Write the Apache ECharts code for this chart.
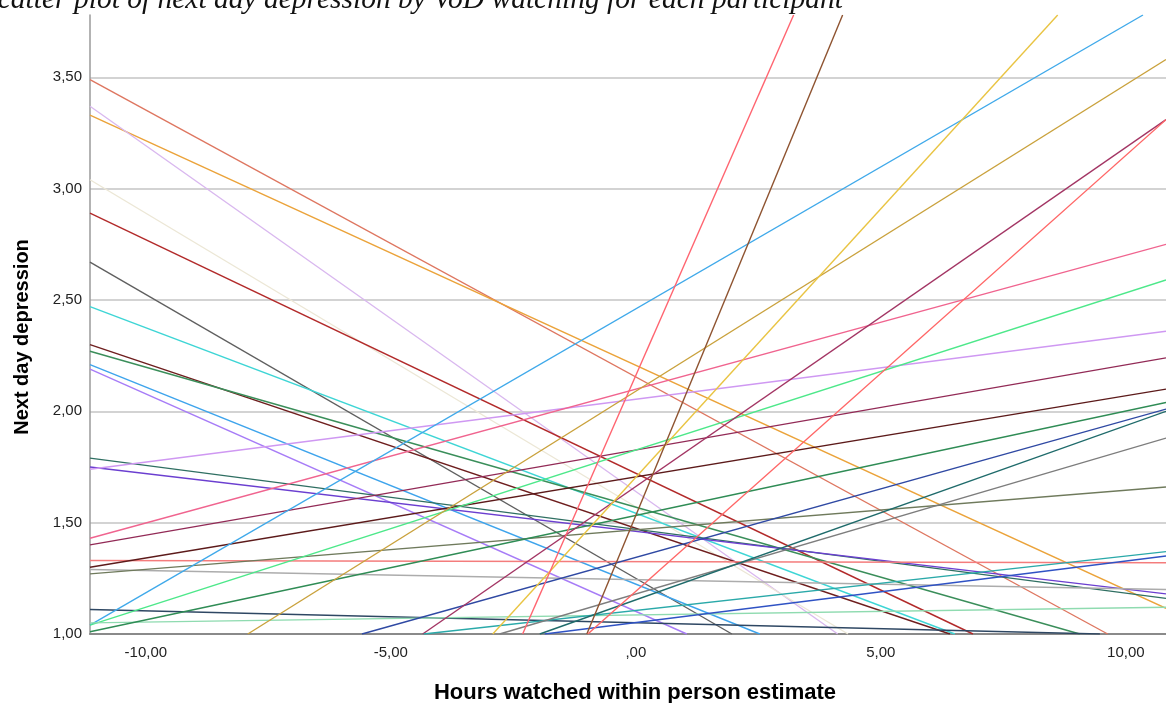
<!DOCTYPE html>
<html>
<head>
<meta charset="utf-8">
<title>Scatter plot of next day depression by VoD watching</title>
<script src="https://cdn.jsdelivr.net/npm/echarts@6.0.0/dist/echarts.min.js"></script>
<style>
  html, body { margin: 0; padding: 0; background: #fff; }
  #chart { width: 1166px; height: 703px; }
</style>
</head>
<body>
<div id="chart"></div>
<script>
// one fitted line per participant: start point and end point (data units)
const lineX0 = [-11.14, -11.14, -11.14, -11.14, -11.14, -11.14, -11.14, -11.14, -11.14, -11.14,
  -11.14, -11.14, -11.14, -11.14, -11.14, -11.14, -11.14, -11.14, -11.14, -11.14,
  -11.14, -11.14, -11.14, -11.14, -11.14,
  -7.92, -5.59, -4.35, -4.33, -2.92, -2.78, -2.31, -1.96, -1.86, -1.00, -0.98];
const lineY0 = [3.49, 3.33, 3.37, 3.04, 2.89, 2.67, 2.47, 2.30, 2.27, 2.21,
  2.19, 1.79, 1.75, 1.74, 1.43, 1.40, 1.33, 1.30, 1.29, 1.27,
  1.11, 1.04, 1.04, 1.05, 1.01,
  1.00, 1.00, 1.00, 1.00, 1.00, 1.00, 1.00, 1.00, 1.00, 1.00, 1.00];
const lineX1 = [9.63, 10.82, 4.12, 4.33, 6.88, 1.96, 6.51, 6.41, 9.06, 2.53,
  1.04, 10.82, 10.82, 10.82, 10.82, 10.82, 10.82, 10.82, 10.82, 10.82,
  9.47, 10.35, 10.82, 10.82, 10.82,
  10.82, 10.82, 10.82, 10.82, 8.61, 10.82, 3.22, 10.82, 10.82, 4.22, 10.82];
const lineY1 = [1.00, 1.115, 1.00, 1.00, 1.00, 1.00, 1.00, 1.00, 1.00, 1.00,
  1.00, 1.16, 1.18, 2.36, 2.75, 2.24, 1.32, 2.10, 1.20, 1.66,
  1.00, 3.78, 2.59, 1.12, 2.04,
  3.58, 2.01, 3.31, 1.37, 3.78, 1.88, 3.78, 2.00, 1.35, 3.78, 3.31];
const lineColors = ["#de7660", "#eba33a", "#d9b8ef", "#ece7d6", "#b22a2a", "#5f5f5f", "#3ed5d5", "#6e1e1e", "#3a8e5a", "#3ea4ec",
  "#a77cf7", "#2f6f62", "#6b3fd0", "#cf98f2", "#f0648f", "#922a56", "#f47c7c", "#5c1a1a", "#acacac", "#6f7a5c",
  "#2e4763", "#3fa9ea", "#4de88a", "#8fdbb0", "#2f8c55",
  "#c9a13b", "#2f49a3", "#a33564", "#2aa9a9", "#e9c443", "#7d7d7d", "#ff6470", "#1f6b6b", "#2f52c4", "#8e5330", "#ff6666"];

const xTicks = [-10, -5, 0, 5, 10];
const xTickLabels = ["-10,00", "-5,00", ",00", "5,00", "10,00"];
const yTicks = [1, 1.5, 2, 2.5, 3, 3.5];
const yTickLabels = ["1,00", "1,50", "2,00", "2,50", "3,00", "3,50"];

const lookup = (ticks, labels) => (v) => {
  const i = ticks.findIndex((t) => Math.abs(t - v) < 1e-6);
  return i < 0 ? "" : labels[i];
};

const chart = echarts.init(document.getElementById("chart"));

const series = lineX0.map((x0, i) => ({
  type: "line",
  data: [[x0, lineY0[i]], [lineX1[i], lineY1[i]]],
  showSymbol: false,
  symbol: "none",
  silent: true,
  clip: true,
  lineStyle: { color: lineColors[i], width: 1.4 },
}));

const labelFont = "'Liberation Sans', Arial, sans-serif";

const option = {
  animation: false,
  backgroundColor: "#fff",
  graphic: [
    {
      type: "text",
      left: -17,
      top: -15,
      style: {
        text: "Scatter plot of next day depression by VoD watching for each participant",
        font: "italic 29.5px 'Liberation Serif', 'Times New Roman', serif",
        fill: "#111",
      },
    },
    {
      type: "text",
      x: 22,
      y: 337,
      rotation: Math.PI / 2,
      style: {
        text: "Next day depression",
        font: "bold 20px 'Liberation Sans', Arial, sans-serif",
        fill: "#000",
        align: "center",
        verticalAlign: "middle",
      },
    },
    {
      type: "text",
      x: 635,
      y: 693,
      style: {
        text: "Hours watched within person estimate",
        font: "bold 22px 'Liberation Sans', Arial, sans-serif",
        fill: "#000",
        align: "center",
        verticalAlign: "middle",
      },
    },
  ],
  grid: { left: 90, right: 0, top: 15, bottom: 69 },
  xAxis: {
    type: "value",
    min: -11.14,
    max: 10.82,
    minInterval: 5,
    maxInterval: 5,
    axisLine: { show: true, onZero: false, lineStyle: { color: "#8a8a8a", width: 2 } },
    axisTick: { show: false },
    splitLine: { show: false },
    axisLabel: {
      margin: 11,
      fontSize: 15,
      fontFamily: labelFont,
      color: "#222",
      showMinLabel: false,
      showMaxLabel: false,
      formatter: lookup(xTicks, xTickLabels),
    },
  },
  yAxis: {
    type: "value",
    min: 1,
    max: 3.78,
    interval: 0.5,
    axisLine: { show: true, onZero: false, lineStyle: { color: "#9a9a9a", width: 1.5 } },
    axisTick: { show: false },
    splitLine: {
      show: true,
      showMinLine: false,
      showMaxLine: false,
      lineStyle: { color: "#c4c4c4", width: 1.5 },
    },
    axisLabel: {
      margin: 8,
      fontSize: 15,
      fontFamily: labelFont,
      color: "#222",
      padding: [6, 0, 0, 0],
      showMaxLabel: false,
      formatter: lookup(yTicks, yTickLabels),
    },
  },
  series: series,
};

chart.setOption(option);
window.addEventListener("resize", () => {
  chart.resize();
});
</script>
</body>
</html>
